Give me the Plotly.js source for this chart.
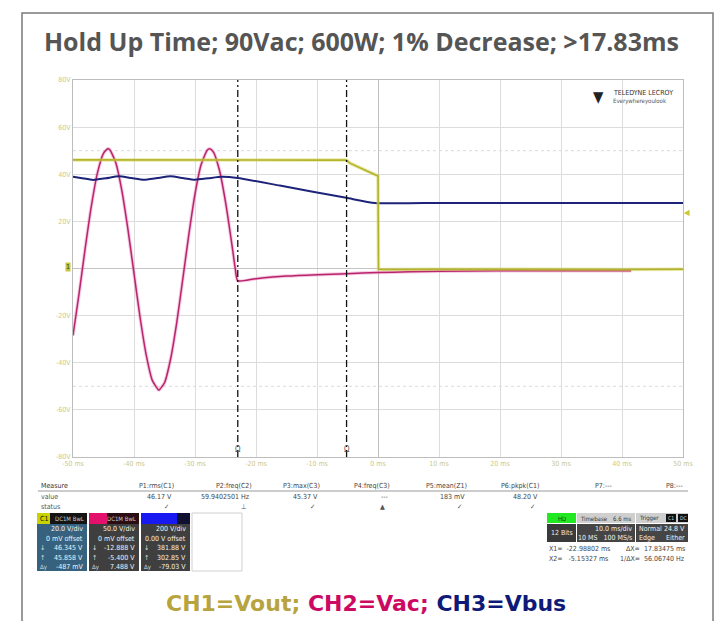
<!DOCTYPE html>
<html>
<head>
<meta charset="utf-8">
<script src="https://cdn.plot.ly/plotly-3.0.1.min.js"></script>
<style>
html,body{margin:0;padding:0;background:#fff;}
#chart{width:720px;height:621px;}
</style>
</head>
<body>
<div id="chart"></div>
<script>
// ---- data (display units on the 20 V/div grid, time in ms) ----
const timeVout = [-50, -40, -30, -20, -10, -5.2, -4.6, -2, 0, 0.08, 1, 10, 20, 30, 40, 50];
const vout     = [46.1, 46.0, 46.1, 46.0, 46.0, 46.0, 44.7, 41.6, 39.3, -0.3, -0.4, -0.3, -0.4, -0.3, -0.4, -0.3];

const timeVac = [-50,-49,-48,-47,-46,-45,-44.3,-44,-43,-42,-41,-40,-39,-38,-37,-36,-35.9,-35,-34,-33,-32,-31,-30,-29,-28,-27.6,-27,-26,-25,-24,-23.4,-22.99,-20,-15,-10,-5.15,0,5,10,20,30,41.5];
const vac     = [-28.4,-10.6,8.6,26.4,40.5,48.9,50.8,50.5,45.0,33.2,16.7,-2.1,-20.8,-36.7,-47.5,-51.5,-51.6,-48.5,-38.4,-23.1,-4.4,14.6,31.6,44.0,50.2,50.8,49.5,41.8,28.3,11.1,0.0,-5.2,-4.3,-3.2,-2.6,-2.2,-1.7,-1.4,-1.2,-1.0,-1.0,-1.0];

const timeVbus = [-50,-48.5,-46.7,-44.6,-42.5,-40.4,-38.4,-36.2,-34.0,-32.0,-30.0,-27.8,-25.6,-23.0,-16.1,-5.2,-0.5,10,20,30,40,50];
const vbus     = [38.9,38.3,37.6,38.3,39.1,38.4,37.7,38.4,39.1,38.4,37.7,38.3,38.9,38.4,35.2,30.0,27.8,27.8,27.8,27.8,27.8,27.8];

const cursorTimes = [-22.98802, -5.15327];

const xTicks = [-50,-40,-30,-20,-10,0,10,20,30,40,50];
const xTickText = ['-50 ms','-40 ms','-30 ms','-20 ms','-10 ms','0 ms','10 ms','20 ms','30 ms','40 ms','50 ms'];
const yTicks = [80,60,40,20,0,-20,-40,-60,-80];
const yTickText = ['80V','60V','40V','20V','','-20V','-40V','-60V','-80V'];

const measureNames  = ['P1:rms(C1)','P2:freq(C2)','P3:max(C3)','P4:freq(C3)','P5:mean(Z1)','P6:pkpk(C1)','P7:---','P8:---'];
const measureValues = ['46.17 V','59.9402501 Hz','45.37 V','---','183 mV','48.20 V','',''];
const measureStatus = ['✓','⊥','✓','▲','✓','✓','',''];

const ch1Info = ['20.0 V/div','0 mV offset','46.345 V','45.858 V','-487 mV'];
const ch2Info = ['50.0 V/div','0 mV offset','-12.888 V','-5.400 V','7.488 V'];
const ch3Info = ['200 V/div','0.00 V offset','381.88 V','302.85 V','-79.03 V'];
const cursorText = ['X1=  -22.98802 ms','X2=   -5.15327 ms'];
const deltaText = ['ΔX=  17.83475 ms','1/ΔX=  56.06740 Hz'];

// ---- layout helpers (pixel -> paper) ----
const L=73, R=683, T=80, B=457;
const W=R-L, H=B-T;
const px = x => (x-L)/W;
const py = y => (B-y)/H;
const SMALL = 'DejaVu Sans Condensed, Liberation Sans Narrow, DejaVu Sans, sans-serif';

const shapes = [];
const ann = [];
function rect(x0,y0,x1,y1,fill,lc,lw){
  shapes.push({type:'rect',xref:'paper',yref:'paper',x0:px(x0),x1:px(x1),y0:py(y1),y1:py(y0),
    fillcolor:fill,line:{color:lc||fill,width:lw===undefined?0:lw},layer:'above'});
}
function hline(x0,x1,y,c,w){
  shapes.push({type:'line',xref:'paper',yref:'paper',x0:px(x0),x1:px(x1),y0:py(y),y1:py(y),line:{color:c,width:w||1}});
}
function txt(text,x,y,o){
  o=o||{};
  ann.push({text:text,x:px(x),y:py(y),xref:'paper',yref:'paper',showarrow:false,
    xanchor:o.a||'left',yanchor:'middle',
    font:{family:o.f||SMALL,size:o.s||7,color:o.c||'#444',weight:o.w||'normal'},
    bgcolor:o.bg||'rgba(0,0,0,0)',borderpad:0});
}

// outer frame
shapes.push({type:'rect',xref:'paper',yref:'paper',x0:px(22),x1:px(713),y0:py(640),y1:py(13),
  line:{color:'#7a7a7a',width:1.5},fillcolor:'rgba(0,0,0,0)',layer:'below'});

// faint dotted levels
[50,-50].forEach(v=>shapes.push({type:'line',xref:'paper',yref:'y',x0:0,x1:1,y0:v,y1:v,
  line:{color:'#dadada',width:1,dash:'dot'},layer:'below'}));

// cursors
cursorTimes.forEach(t=>{
  shapes.push({type:'line',xref:'x',yref:'paper',x0:t,x1:t,y0:0,y1:1,
    line:{color:'#111',width:1.3,dash:'7px,3px,2px,3px'},layer:'above'});
  ann.push({text:'Ω',x:t,y:-77,xref:'x',yref:'y',showarrow:false,font:{family:SMALL,size:8,color:'#555'}});
});

// ground marker + trigger level marker
txt('1',68,267,{a:'center',s:7,c:'#333',bg:'#c8c640'});
txt('◀',687,213,{a:'center',s:8,c:'#c8c640'});

// Teledyne logo
txt('▼',598,97,{a:'center',s:15,c:'#222'});
txt('TELEDYNE LECROY',612,93,{s:7,c:'#333'});
txt('Everywhereyoulook',612,101,{s:6,c:'#555'});

// measurement table
txt('Measure',40,486,{c:'#333'});
txt('value',40,497,{c:'#555'});
txt('status',40,507,{c:'#555'});
hline(38,688,491,'#999',1);
const colRight=[175,253,321,391,468,541,613,684];
measureNames.forEach((n,i)=>txt(n,colRight[i],486,{a:'right',c:'#444'}));
measureValues.forEach((v,i)=>{ if(v) txt(v,colRight[i]-2,497,{a:'right',c:'#444'}); });
measureStatus.forEach((v,i)=>{ if(v) txt(v,colRight[i]-9,507,{a:'center',c:'#555',s:7}); });

// channel boxes
function chanBox(x0,x1,hdrColor,hdrSplit,hdrDark,body,label,tag,info){
  rect(x0,513,x1,571,body);
  rect(x0,513,hdrSplit,524,hdrColor);
  rect(hdrSplit,513,x1,524,hdrDark);
  txt(label,x0+2,518.5,{s:7,c:'#111'});
  if(tag) txt(tag,x1-2,518.5,{a:'right',s:6,c:'#ccc'});
  const ys=[529,538.5,548,557.5,567];
  info.forEach((s,i)=>txt(s,x1-3,ys[i],{a:'right',s:7,c:'#f2f2f2'}));
  txt('↓',x0+2,548,{s:7,c:'#ddd'});
  txt('↑',x0+2,557.5,{s:7,c:'#ddd'});
  txt('Δy',x0+2,567,{s:6,c:'#ddd'});
}
chanBox(37,87,'#c9d200',50,'#151515','#36627f','C1','DC1M BwL',ch1Info);
chanBox(89,139,'#e3106c',107,'#2b0d14','#3f3f3f','','DC1M BwL',ch2Info);
chanBox(141,190,'#1818f0',177,'#101030','#3f3f3f','','',ch3Info);
rect(192,513,242,571,'#ffffff','#d0d0d0',1);

// timebase / trigger panel
rect(547,513,576,523,'#22e822');
txt('HD',561.5,518,{a:'center',s:6,c:'#114411'});
rect(547,524,576,542,'#3a3a3a');
txt('12 Bits',561.5,533,{a:'center',s:7,c:'#eee'});
rect(577,513,635,523,'#cfcfcf');
txt('Timebase',579,518,{s:6,c:'#333'});
txt('6.6 ms',633,518,{a:'right',s:6,c:'#333'});
rect(577,524,635,542,'#454545');
txt('10.0 ms/div',633,529,{a:'right',s:7,c:'#eee'});
txt('10 MS   100 MS/s',633,538,{a:'right',s:7,c:'#eee'});
rect(636,513,688,523,'#cfcfcf');
txt('Trigger',638,518,{s:6,c:'#333'});
rect(666,514,676,522,'#111'); txt('C1',671,518,{a:'center',s:5,c:'#ddd'});
rect(678,514,688,522,'#111'); txt('DC',683,518,{a:'center',s:5,c:'#ddd'});
rect(636,524,688,542,'#454545');
txt('Normal',638,529,{s:7,c:'#eee'});
txt('24.8 V',686,529,{a:'right',s:7,c:'#eee'});
txt('Edge',638,538,{s:7,c:'#eee'});
txt('Either',686,538,{a:'right',s:7,c:'#eee'});
txt(cursorText[0],548,549,{s:7,c:'#444'});
txt(cursorText[1],548,559,{s:7,c:'#444'});
txt(deltaText[0],686,549,{a:'right',s:7,c:'#444'});
txt(deltaText[1],686,559,{a:'right',s:7,c:'#444'});

// bottom channel legend
ann.push({text:'<span style="color:#b8a43e">CH1=Vout;</span> <span style="color:#cc0a62">CH2=Vac;</span> <span style="color:#0f1a78">CH3=Vbus</span>',
  x:px(366),y:py(603),xref:'paper',yref:'paper',showarrow:false,xanchor:'center',yanchor:'middle',
  font:{family:'DejaVu Sans, sans-serif',size:22,weight:'bold',color:'#333'}});

const traces = [
  {x:timeVac,y:vac,type:'scatter',mode:'lines',name:'CH2=Vac',line:{color:'rgba(230,120,175,0.4)',width:3.5,shape:'spline',smoothing:0.6},hoverinfo:'skip',showlegend:false},
  {x:timeVac,y:vac,type:'scatter',mode:'lines',name:'CH2=Vac',line:{color:'#b8246e',width:1.5,shape:'spline',smoothing:0.6}},
  {x:timeVbus,y:vbus,type:'scatter',mode:'lines',name:'CH3=Vbus',line:{color:'#1c2378',width:2,shape:'spline',smoothing:0.5}},
  {x:timeVout,y:vout,type:'scatter',mode:'lines',name:'CH1=Vout',line:{color:'rgba(210,210,80,0.5)',width:3.5},hoverinfo:'skip',showlegend:false},
  {x:timeVout,y:vout,type:'scatter',mode:'lines',name:'CH1=Vout',line:{color:'#b4b42c',width:1.6}}
];

const layout = {
  width:720,height:621,
  margin:{l:L,r:720-R,t:T,b:621-B,pad:0},
  paper_bgcolor:'#ffffff',plot_bgcolor:'#ffffff',
  showlegend:false,
  title:{text:'Hold Up Time; 90Vac; 600W; 1% Decrease; >17.83ms',x:0.502,xanchor:'center',y:1-42/621,yanchor:'middle',
    font:{family:'Open Sans, sans-serif',size:25,weight:700,color:'#555555'}},
  xaxis:{range:[-50,50],tickvals:xTicks,ticktext:xTickText,showgrid:true,gridcolor:'#dcdcdc',gridwidth:1,
    zeroline:true,zerolinecolor:'#c0c0c0',zerolinewidth:1,showline:true,linecolor:'#bdbdbd',linewidth:1,mirror:true,
    ticks:'',tickfont:{family:SMALL,size:7,color:'#c9c98a'},fixedrange:true},
  yaxis:{range:[-80,80],tickvals:yTicks,ticktext:yTickText,showgrid:true,gridcolor:'#dcdcdc',gridwidth:1,
    zeroline:true,zerolinecolor:'#c4c4c4',zerolinewidth:1,showline:true,linecolor:'#bdbdbd',linewidth:1,mirror:true,
    ticks:'',tickfont:{family:SMALL,size:7,color:'#c9c98a'},fixedrange:true},
  xaxis2:{overlaying:'x',anchor:'free',position:0.5,range:[-50,50],dtick:2,tick0:0,ticks:'inside',ticklen:3,
    tickcolor:'#c4c4c4',showticklabels:false,showgrid:false,zeroline:false,showline:false},
  yaxis2:{overlaying:'y',anchor:'free',position:0.5,range:[-80,80],dtick:4,tick0:0,ticks:'inside',ticklen:3,
    tickcolor:'#c4c4c4',showticklabels:false,showgrid:false,zeroline:false,showline:false},
  shapes:shapes,
  annotations:ann
};

Plotly.newPlot('chart',traces,layout,{displayModeBar:false,staticPlot:true});
</script>
</body>
</html>
